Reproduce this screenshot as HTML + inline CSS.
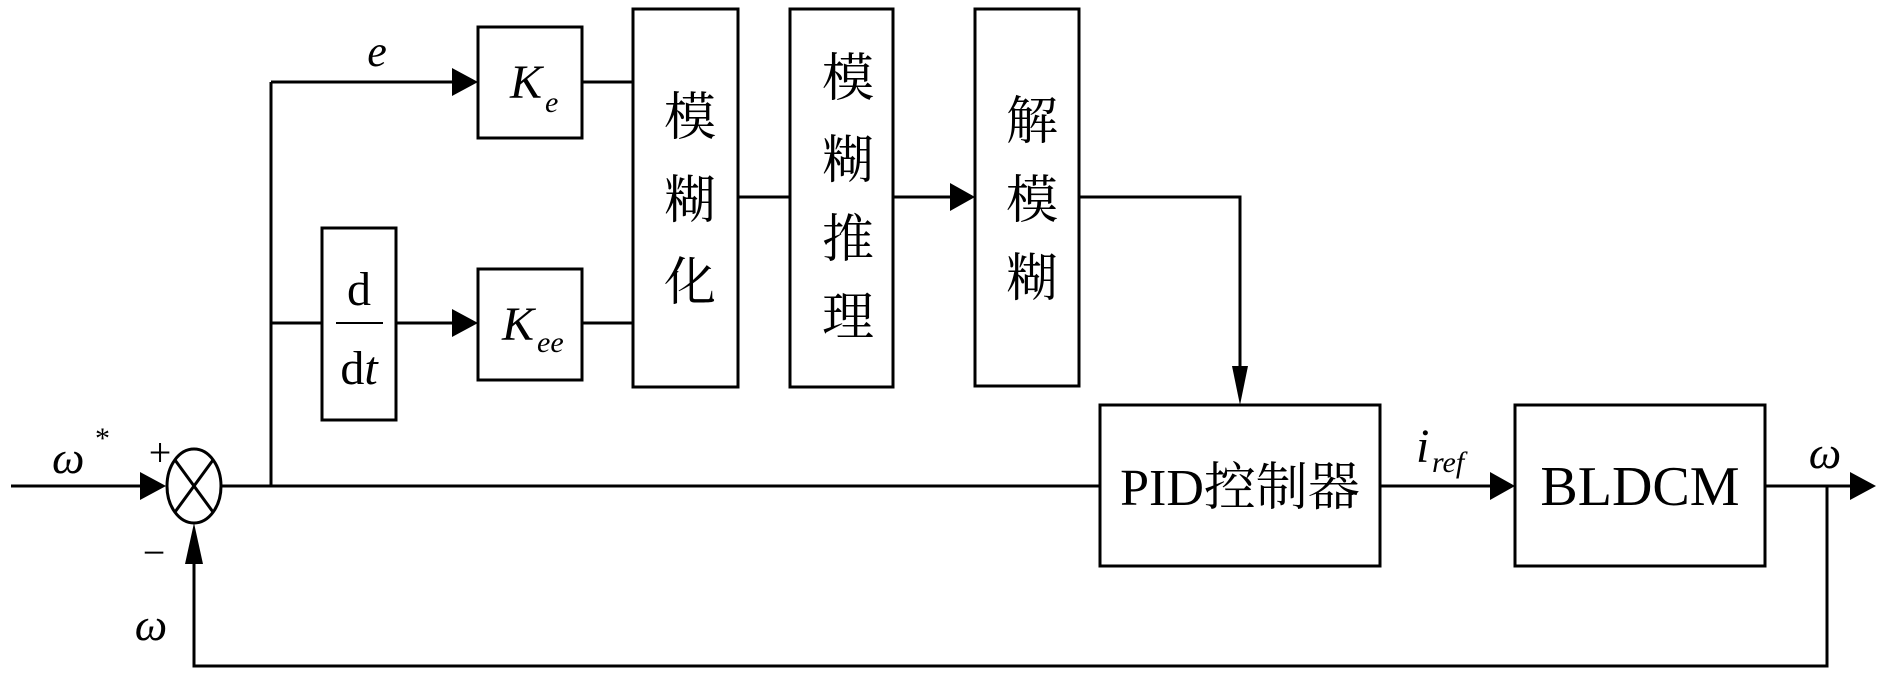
<!DOCTYPE html>
<html><head><meta charset="utf-8"><style>
html,body{margin:0;padding:0;background:#fff;}
svg{display:block;}
text{font-family:"Liberation Serif","Noto Serif CJK SC","Noto Sans CJK SC",serif;fill:#000;}
</style></head><body>
<svg width="1890" height="680" viewBox="0 0 1890 680" xmlns="http://www.w3.org/2000/svg">
<g stroke="#000" stroke-width="3" fill="none">
<!-- input line -->
<line x1="11" y1="486" x2="140" y2="486"/>
<ellipse cx="194" cy="486" rx="27" ry="37"/>
<line x1="175" y1="460" x2="213" y2="512"/>
<line x1="213" y1="460" x2="175" y2="512"/>
<!-- main line to PID -->
<line x1="221" y1="486" x2="1100" y2="486"/>
<!-- branch vertical -->
<line x1="271" y1="82" x2="271" y2="486"/>
<line x1="271" y1="82" x2="452" y2="82"/>
<line x1="271" y1="323" x2="322" y2="323"/>
<line x1="396" y1="323" x2="452" y2="323"/>
<!-- boxes -->
<rect x="478" y="27" width="104" height="111"/>
<rect x="322" y="228" width="74" height="192"/>
<rect x="478" y="269" width="104" height="111"/>
<rect x="633" y="9" width="105" height="378"/>
<rect x="790" y="9" width="103" height="378"/>
<rect x="975" y="9" width="104" height="377"/>
<rect x="1100" y="405" width="280" height="161"/>
<rect x="1515" y="405" width="250" height="161"/>
<!-- connections -->
<line x1="582" y1="82" x2="633" y2="82"/>
<line x1="582" y1="323" x2="633" y2="323"/>
<line x1="738" y1="197" x2="790" y2="197"/>
<line x1="893" y1="197" x2="950" y2="197"/>
<polyline points="1079,197 1240,197 1240,380"/>
<line x1="1380" y1="486" x2="1490" y2="486"/>
<line x1="1765" y1="486" x2="1850" y2="486"/>
<polyline points="1827,486 1827,666 194,666 194,548"/>
<!-- d/dt fraction bar -->
<line x1="336" y1="323" x2="383" y2="323" stroke-width="2"/>
</g>
<g fill="#000">
<polygon points="140,472 166,486 140,500"/>
<polygon points="452,68 478,82 452,96"/>
<polygon points="452,309 478,323 452,337"/>
<polygon points="950,183 975,197 950,211"/>
<polygon points="1232,366 1240,405 1248,366"/>
<polygon points="1490,472 1515,486 1490,500"/>
<polygon points="1850,472 1876,486 1850,500"/>
<polygon points="185,564 194,523 203,564"/>
</g>
<!-- labels -->
<text x="377" y="66" font-size="44" font-style="italic" text-anchor="middle">e</text>
<text x="510" y="98" font-size="48" font-style="italic">K</text>
<text x="545" y="112" font-size="30" font-style="italic">e</text>
<text x="502" y="340" font-size="48" font-style="italic">K</text>
<text x="537" y="352" font-size="30" font-style="italic">ee</text>
<text x="359" y="305" font-size="48" text-anchor="middle">d</text>
<text x="359" y="384" font-size="48" text-anchor="middle">d<tspan font-style="italic">t</tspan></text>
<text x="52" y="473" font-size="46" font-style="italic">ω</text>
<text x="95" y="448" font-size="30">*</text>
<text x="160" y="466" font-size="40" text-anchor="middle">+</text>
<text x="154" y="566" font-size="40" text-anchor="middle">−</text>
<text x="151" y="640" font-size="46" font-style="italic" text-anchor="middle">ω</text>
<g font-size="52" text-anchor="middle">
<text x="690" y="135">模</text>
<text x="690" y="218">糊</text>
<text x="690" y="300">化</text>
<text x="848" y="96">模</text>
<text x="848" y="178">糊</text>
<text x="848" y="257">推</text>
<text x="848" y="335">理</text>
<text x="1032" y="139">解</text>
<text x="1032" y="218">模</text>
<text x="1032" y="296">糊</text>
</g>
<text x="1240" y="505" font-size="52" text-anchor="middle">PID控制器</text>
<text x="1640" y="505" font-size="56" text-anchor="middle">BLDCM</text>
<text x="1416" y="462" font-size="48" font-style="italic">i</text>
<text x="1432" y="472" font-size="30" font-style="italic">ref</text>
<text x="1825" y="468" font-size="46" font-style="italic" text-anchor="middle">ω</text>
</svg>
</body></html>
